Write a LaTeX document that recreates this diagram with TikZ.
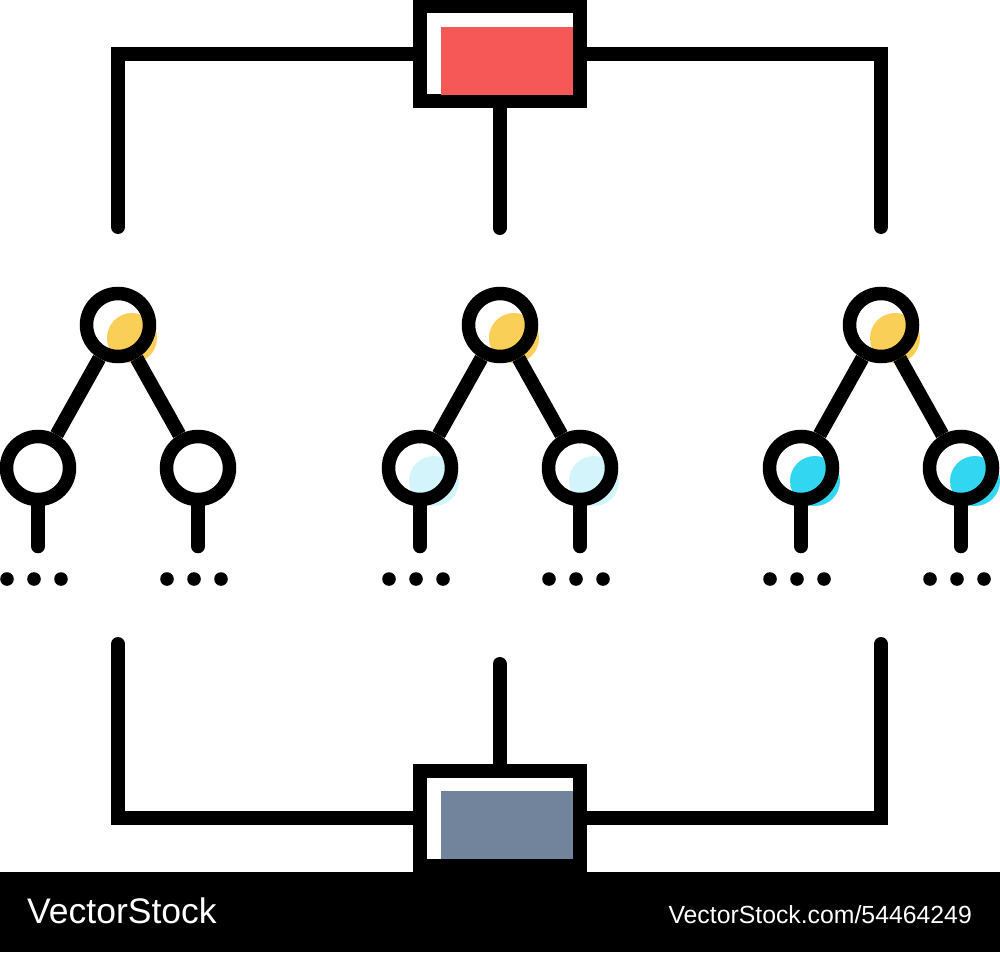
\documentclass[tikz,border=0pt]{standalone}
\usepackage{fontspec}
\setmainfont{Liberation Sans}
\usepackage{tikz}
\usetikzlibrary{positioning, backgrounds}

\definecolor{boxred}{HTML}{F65757}
\definecolor{boxslate}{HTML}{72839C}
\definecolor{rootyellow}{HTML}{F9CF57}
\definecolor{leafcyan}{HTML}{33D6F1}
\definecolor{leaflight}{HTML}{D3F4FB}

\begin{document}
\begin{tikzpicture}[x=1pt, y=-1pt, node distance=143pt and 80pt, on grid,
    wire/.style={line width=14pt, line cap=round},
    tnode/.style={circle, draw, line width=13.5pt, minimum size=63pt, inner sep=0pt},
    block/.style={rectangle, draw, line width=14pt, minimum width=160pt, minimum height=95pt, inner sep=0pt},
    spot/.style={radius=25pt}]
    \useasboundingbox (0,0) rectangle (1000,952);

    % Define blocks
    \node[block] (top) at (499.5,54) {};
    \node[block] (bottom) at (499.5,818) {};
    \fill[boxred] (441,27) rectangle (573,95);
    \fill[boxslate] (441,791) rectangle (573,859);

    % Define trees
    \node[tnode] (r1) at (118,325) {};
    \node[tnode] (a1) [below left=of r1] {};
    \node[tnode] (b1) [below right=of r1] {};
    \node[tnode] (r2) at (500,325) {};
    \node[tnode] (a2) [below left=of r2] {};
    \node[tnode] (b2) [below right=of r2] {};
    \node[tnode] (r3) at (881,325) {};
    \node[tnode] (a3) [below left=of r3] {};
    \node[tnode] (b3) [below right=of r3] {};

    % Colour spots
    \begin{scope}[on background layer]
        \foreach \n in {r1,r2,r3}
            \fill[rootyellow] ([shift={(14,13)}]\n.center) circle [spot];
        \foreach \n in {a2,b2}
            \fill[leaflight] ([shift={(14,13)}]\n.center) circle [spot];
        \foreach \n in {a3,b3}
            \fill[leafcyan] ([shift={(14,13)}]\n.center) circle [spot];
    \end{scope}

    % Define free ends
    \coordinate (tl) at (118,227);
    \coordinate (tm) at (499.5,228);
    \coordinate (tr) at (881,227);
    \coordinate (bl) at (118,644);
    \coordinate (bm) at (499.5,664);
    \coordinate (br) at (881,644);

    % Define connectors
    \draw[wire] (tl) |- (top.west);
    \draw[wire] (tr) |- (top.east);
    \draw[wire] (bl) |- (bottom.west);
    \draw[wire] (br) |- (bottom.east);
    \draw[wire] (top.south) -- (tm);
    \draw[wire] (bm) -- (bottom.north);

    \path[wire, line cap=butt, draw]
    (r1) -- (a1) (r1) -- (b1)
    (r2) -- (a2) (r2) -- (b2)
    (r3) -- (a3) (r3) -- (b3);

    \foreach \n in {a1,b1,a2,b2,a3,b3} {
        \draw[wire] (\n.south) -- ++(0,40);
        \foreach \dx in {-31,-4,23}
            \fill ([shift={(\dx,111)}]\n.center) circle (6.8pt);
    }

    % Footer
    \fill (0,872) rectangle (1000,952);
    \node[anchor=base west, text=white, inner sep=0pt, font=\fontsize{35.5}{36}\selectfont] (brand) at (27,923) {VectorStock};
    \node[anchor=base east, text=white, inner sep=0pt, font=\fontsize{24.8}{25}\selectfont] (ref) at (972,923) {VectorStock.com/54464249};
\end{tikzpicture}
\end{document}
